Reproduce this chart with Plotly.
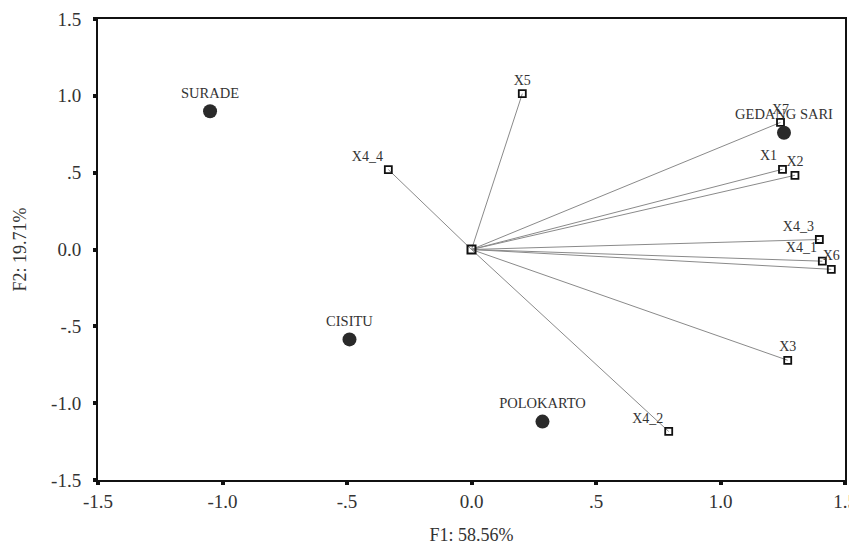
import plotly.graph_objects as go

# Observations (sites)
site_names = ["SURADE", "CISITU", "POLOKARTO", "GEDANG SARI"]
site_f1 = [-1.05, -0.49, 0.285, 1.255]
site_f2 = [0.90, -0.585, -1.12, 0.76]

# Variables (vectors)
var_names = ["X4_4", "X5", "X7", "X1", "X2", "X4_3", "X4_1", "X6", "X3", "X4_2"]
var_f1 = [-0.334, 0.204, 1.241, 1.249, 1.299, 1.397, 1.409, 1.445, 1.27, 0.792]
var_f2 = [0.52, 1.014, 0.827, 0.522, 0.483, 0.065, -0.076, -0.129, -0.721, -1.184]
var_textpos = ["top left", "top center", "top center", "top left", "top center",
               "top left", "top left", "top center", "top center", "top left"]

tick_vals = [-1.5, -1.0, -0.5, 0.0, 0.5, 1.0, 1.5]
tick_text = ["-1.5", "-1.0", "-.5", "0.0", ".5", "1.0", "1.5"]

FONT = "Liberation Serif, Times New Roman, serif"

# vector lines from origin
lx, ly = [], []
for a, b in zip(var_f1, var_f2):
    lx += [0, a, None]
    ly += [0, b, None]

fig = go.Figure()
fig.add_trace(go.Scatter(x=lx, y=ly, mode="lines",
                         line=dict(color="#8a8a8a", width=1), hoverinfo="skip",
                         showlegend=False))
fig.add_trace(go.Scatter(x=[0], y=[0], mode="markers",
                         marker=dict(symbol="square-open", size=8, color="#111",
                                     line=dict(width=2)),
                         showlegend=False))
fig.add_trace(go.Scatter(x=var_f1, y=var_f2, mode="markers+text", text=var_names,
                         textposition=var_textpos,
                         textfont=dict(family=FONT, size=14, color="#333"),
                         marker=dict(symbol="square-open", size=7, color="#111",
                                     line=dict(width=1.8)),
                         showlegend=False))
fig.add_trace(go.Scatter(x=site_f1, y=site_f2, mode="markers+text", text=site_names,
                         textposition="top center",
                         textfont=dict(family=FONT, size=14.5, color="#333"),
                         marker=dict(symbol="circle", size=14, color="#2a2a2a",
                                     line=dict(width=0)),
                         showlegend=False))

axis_common = dict(range=[-1.5, 1.5], tickvals=tick_vals, ticktext=tick_text,
                   showgrid=False, zeroline=False, showline=True, mirror=True,
                   linecolor="#111", linewidth=2, ticks="outside", ticklen=3,
                   tickwidth=4, tickcolor="#111", automargin=False,
                   ticklabeloverflow="allow",
                   tickfont=dict(family=FONT, size=19, color="#333"))

fig.update_layout(
    width=849, height=545,
    margin=dict(l=90, r=12, t=11, b=73),
    paper_bgcolor="white", plot_bgcolor="white",
    xaxis=dict(**axis_common,
               title=dict(text="F1: 58.56%", standoff=18,
                          font=dict(family=FONT, size=18, color="#333"))),
    yaxis=dict(**axis_common, ticklabelstandoff=8,
               title=dict(text="F2: 19.71%", standoff=20,
                          font=dict(family=FONT, size=18, color="#333"))),
)

fig.write_html("out.html")
